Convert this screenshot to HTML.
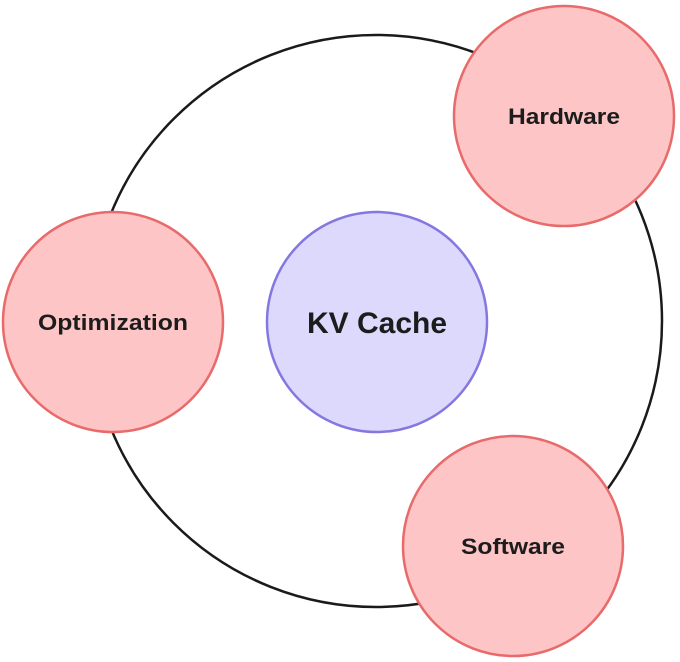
<!DOCTYPE html>
<html><head><meta charset="utf-8"><style>
html,body{margin:0;padding:0;background:#fff;width:680px;height:662px;overflow:hidden}
text{font-family:"Liberation Sans",sans-serif;font-weight:bold;fill:#1c1c1c}
</style></head><body>
<svg width="680" height="662" viewBox="0 0 680 662">
<circle cx="376" cy="321" r="286" fill="none" stroke="#1a1a1a" stroke-width="2.5"/>
<circle cx="377" cy="322" r="110" fill="#dcd9fc" stroke="#8478e0" stroke-width="2.5"/>
<text x="377" y="333" text-anchor="middle" font-size="30" textLength="140" lengthAdjust="spacingAndGlyphs">KV Cache</text>
<circle cx="113" cy="322" r="110" fill="#fdc5c5" stroke="#e86a6a" stroke-width="2.5"/>
<text x="113" y="330" text-anchor="middle" font-size="22" textLength="150" lengthAdjust="spacingAndGlyphs">Optimization</text>
<circle cx="564" cy="116" r="110" fill="#fdc5c5" stroke="#e86a6a" stroke-width="2.5"/>
<text x="564" y="124" text-anchor="middle" font-size="22" textLength="112" lengthAdjust="spacingAndGlyphs">Hardware</text>
<circle cx="513" cy="546" r="110" fill="#fdc5c5" stroke="#e86a6a" stroke-width="2.5"/>
<text x="513" y="554" text-anchor="middle" font-size="22" textLength="104" lengthAdjust="spacingAndGlyphs">Software</text>
</svg>
</body></html>
